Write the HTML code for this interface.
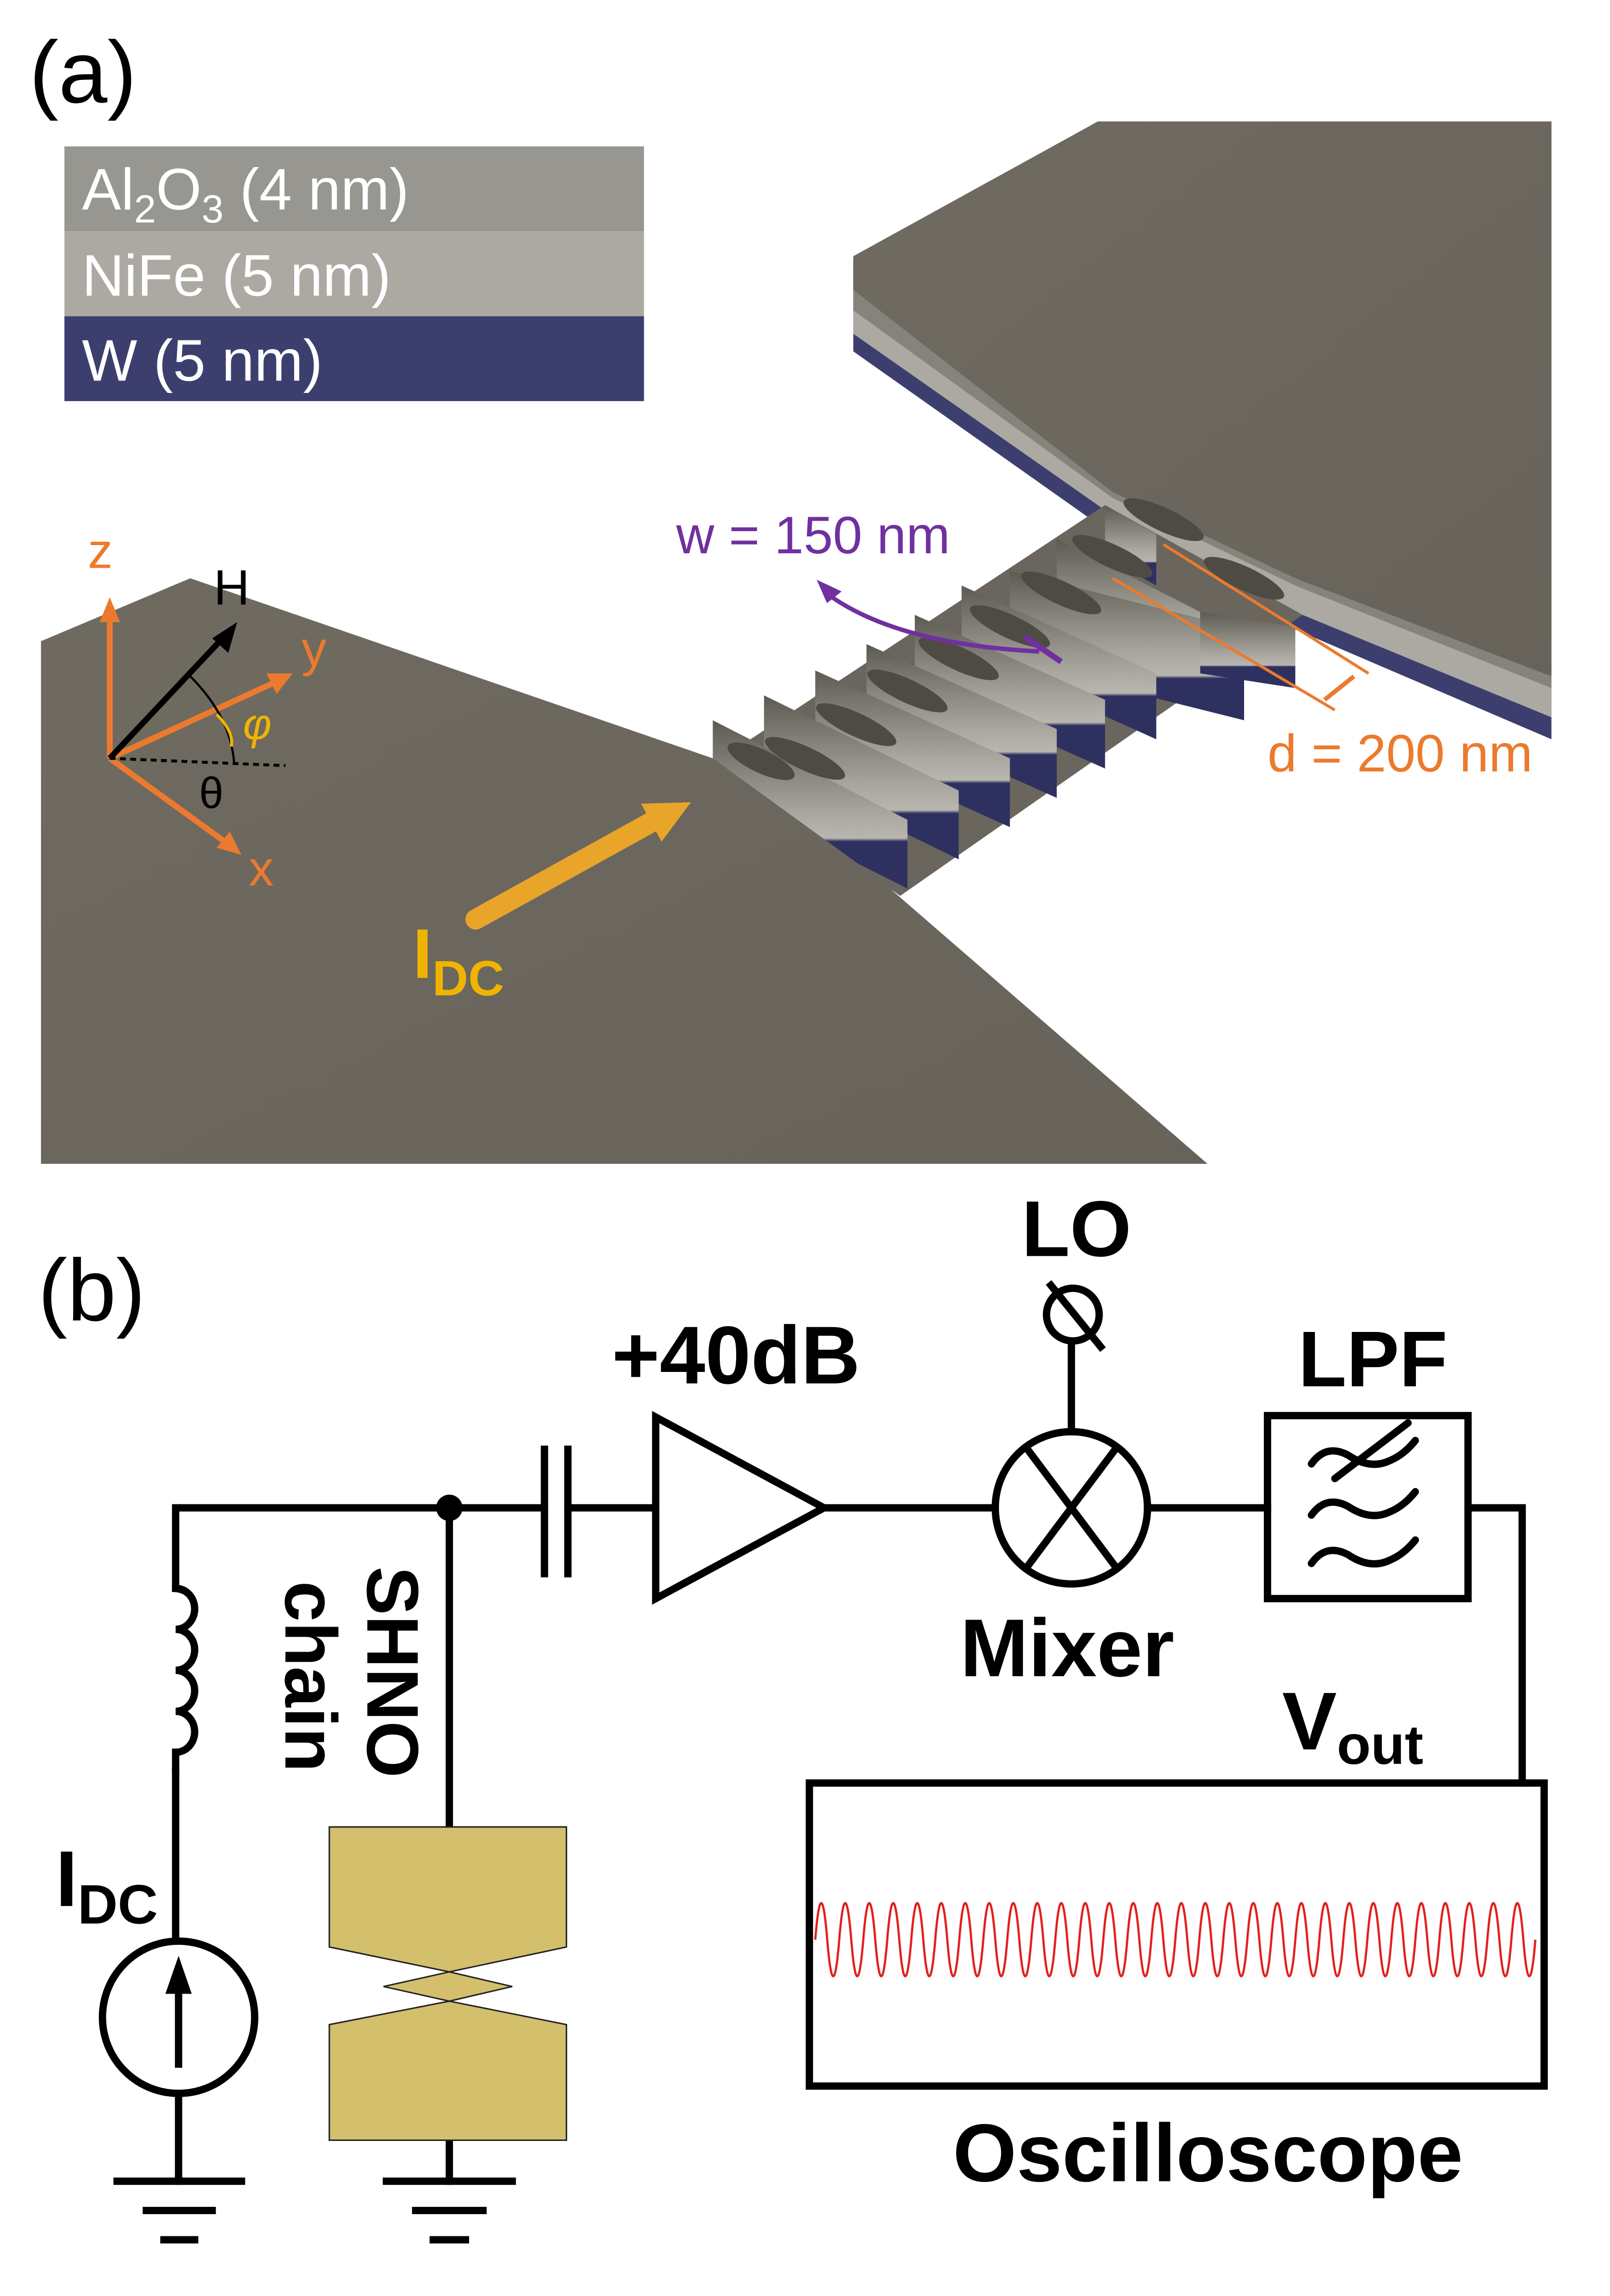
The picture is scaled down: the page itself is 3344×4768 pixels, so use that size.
<!DOCTYPE html>
<html><head><meta charset="utf-8"><style>
html,body{margin:0;padding:0;background:#fff;}
svg{display:block;}
text{font-family:"Liberation Sans",sans-serif;}
</style></head><body>
<svg width="3344" height="4768" viewBox="0 0 1100 1568.4" xmlns="http://www.w3.org/2000/svg">
<defs>
<linearGradient id="fin" x1="0" y1="0" x2="0" y2="1">
<stop offset="0" stop-color="#5d5a52"/><stop offset="0.55" stop-color="#a8a69e"/><stop offset="0.7" stop-color="#b8b6ae"/><stop offset="0.72" stop-color="#2e3160"/><stop offset="1" stop-color="#2e3160"/>
</linearGradient>
<linearGradient id="pad" x1="0" y1="0" x2="1" y2="1">
<stop offset="0" stop-color="#6f6b61"/><stop offset="1" stop-color="#67635a"/>
</linearGradient>
</defs>
<!-- (a) -->
<text x="20" y="70" font-size="60">(a)</text>
<rect x="44" y="100" width="396" height="58" fill="#979690"/>
<rect x="44" y="158" width="396" height="58" fill="#aba9a2"/>
<rect x="44" y="216" width="396" height="58" fill="#3c3f6e"/>
<text x="56" y="143" font-size="40" fill="#fff">Al<tspan font-size="27" dy="9">2</tspan><tspan dy="-9">O</tspan><tspan font-size="27" dy="9">3</tspan><tspan dy="-9"> (4 nm)</tspan></text>
<text x="56" y="202" font-size="40" fill="#fff">NiFe (5 nm)</text>
<text x="56" y="260" font-size="40" fill="#fff">W (5 nm)</text>

<!-- right pad -->
<polygon points="583,178 750,83 1060,83 1060,505 885,430 760,365 583,240" fill="#3c3f6e"/>
<polygon points="583,178 750,83 1060,83 1060,490 885,418 760,352 583,228" fill="#aba9a2"/>
<polygon points="583,178 750,83 1060,83 1060,470 885,400 760,340 583,212" fill="#85837b"/>
<polygon points="583,175 750,83 1060,83 1060,462 885,395 760,336 583,198" fill="url(#pad)"/>

<!-- chain base -->
<polygon points="487,522 755,345 890,420 615,612" fill="#6a665d"/>
<g>
<polygon points="755,345 790,365 790,400 755,380" fill="url(#fin)"/>
<polygon points="722,368 820,418 820,470 722,420" fill="url(#fin)"/>
<polygon points="690,390 850,430 850,492 690,452" fill="url(#fin)"/>
<polygon points="657,400 790,460 790,505 657,445" fill="url(#fin)"/>
<polygon points="625,420 755,478 755,525 625,467" fill="url(#fin)"/>
<polygon points="592,440 722,498 722,545 592,487" fill="url(#fin)"/>
<polygon points="557,458 690,518 690,565 557,505" fill="url(#fin)"/>
<polygon points="522,475 655,540 655,587 522,522" fill="url(#fin)"/>
<polygon points="487,492 620,560 620,607 487,540" fill="url(#fin)"/>
<polygon points="820,418 885,428 885,470 820,460" fill="url(#fin)"/>
</g>
<g fill="#4e4b44">
<ellipse cx="795" cy="355" rx="30" ry="8" transform="rotate(25 795 355)"/>
<ellipse cx="760" cy="380" rx="30" ry="8" transform="rotate(25 760 380)"/>
<ellipse cx="725" cy="405" rx="30" ry="8" transform="rotate(25 725 405)"/>
<ellipse cx="690" cy="428" rx="30" ry="8" transform="rotate(25 690 428)"/>
<ellipse cx="655" cy="450" rx="30" ry="8" transform="rotate(25 655 450)"/>
<ellipse cx="620" cy="472" rx="30" ry="8" transform="rotate(25 620 472)"/>
<ellipse cx="585" cy="495" rx="30" ry="8" transform="rotate(25 585 495)"/>
<ellipse cx="550" cy="518" rx="30" ry="8" transform="rotate(25 550 518)"/>
<ellipse cx="520" cy="520" rx="25" ry="8" transform="rotate(25 520 520)"/>
<ellipse cx="850" cy="395" rx="30" ry="8" transform="rotate(25 850 395)"/>
</g>
<polygon points="28,438 130,395 487,518 600,600 825,795 28,795" fill="url(#pad)"/>

<!-- axes -->
<g stroke="#ec7a2e" stroke-width="4" fill="#ec7a2e">
<line x1="75" y1="518" x2="75" y2="420"/><polygon points="75,408 68,425 82,425" stroke="none"/>
<line x1="75" y1="518" x2="188" y2="466"/><polygon points="200,460 182,460 189,474" stroke="none"/>
<line x1="75" y1="518" x2="155" y2="576"/><polygon points="165,584 148,579 157,568" stroke="none"/>
</g>
<line x1="75" y1="518" x2="195" y2="523" stroke="#000" stroke-width="2" stroke-dasharray="4,3"/>
<line x1="75" y1="518" x2="153" y2="435" stroke="#000" stroke-width="4"/>
<polygon points="162,425 145,436 156,446" fill="#000"/>
<path d="M130,462 Q158,490 160,522" stroke="#000" stroke-width="1.5" fill="none"/>
<path d="M148,488 Q160,500 158,510" stroke="#f0b400" stroke-width="2" fill="none"/>
<text x="60" y="388" font-size="34" fill="#ec7a2e">z</text>
<text x="206" y="455" font-size="34" fill="#ec7a2e">y</text>
<text x="170" y="605" font-size="34" fill="#ec7a2e">x</text>
<text x="146" y="413" font-size="34" fill="#000">H</text>
<text x="166" y="505" font-size="30" fill="#f0b400" font-style="italic" font-family="Liberation Serif,serif">φ</text>
<text x="136" y="552" font-size="30" fill="#000" font-family="Liberation Serif,serif">θ</text>

<line x1="325" y1="628" x2="448" y2="560" stroke="#e8a52a" stroke-width="14" stroke-linecap="round"/>
<polygon points="472,548 438,549 452,575" fill="#e8a52a"/>
<text x="282" y="668" font-size="48" fill="#f0b400" font-weight="bold">I<tspan font-size="34" dy="12">DC</tspan></text>

<text x="462" y="378" font-size="36" fill="#7030a0">w = 150 nm</text>
<path d="M563,404 Q610,440 710,445" stroke="#7030a0" stroke-width="3" fill="none"/>
<polygon points="558,396 575,404 565,412" fill="#7030a0"/>
<line x1="700" y1="435" x2="725" y2="452" stroke="#7030a0" stroke-width="4"/>
<line x1="760" y1="395" x2="912" y2="485" stroke="#ec7a2e" stroke-width="2"/>
<line x1="795" y1="372" x2="935" y2="460" stroke="#ec7a2e" stroke-width="2"/>
<line x1="905" y1="478" x2="925" y2="462" stroke="#ec7a2e" stroke-width="3"/>
<text x="866" y="527" font-size="36" fill="#ec7a2e">d = 200 nm</text>

<!-- (b) -->
<text x="26" y="902" font-size="60">(b)</text>
<g stroke="#000" stroke-width="5" fill="none" stroke-linecap="square">
<polyline points="120,1085 120,1030 372,1030"/>
<line x1="307" y1="1030" x2="307" y2="1248"/>
<line x1="372" y1="990" x2="372" y2="1075"/>
<line x1="388" y1="990" x2="388" y2="1075"/>
<line x1="388" y1="1030" x2="448" y2="1030"/>
<polygon points="448,968 448,1092 563,1030"/>
<line x1="563" y1="1030" x2="680" y2="1030"/>
<ellipse cx="732" cy="1030" rx="52" ry="52"/>
<line x1="702" y1="990" x2="762" y2="1070"/>
<line x1="762" y1="990" x2="702" y2="1070"/>
<line x1="732" y1="918" x2="732" y2="978"/>
<circle cx="733" cy="898" r="18"/>
<line x1="718" y1="878" x2="752" y2="920"/>
<line x1="784" y1="1030" x2="866" y2="1030"/>
<rect x="866" y="967" width="137" height="125"/>
<polyline points="1003,1030 1040,1030 1040,1218"/>
<rect x="553" y="1218" width="502" height="207"/>
<path d="M120,1085 a13,14 0 0 1 0,28 a13,14 0 0 1 0,28 a13,14 0 0 1 0,28 a13,14 0 0 1 0,28 l0,12"/>
<line x1="120" y1="1210" x2="120" y2="1326"/>
<ellipse cx="122" cy="1378" rx="52" ry="52"/>
<line x1="122" y1="1410" x2="122" y2="1350"/>
<line x1="122" y1="1430" x2="122" y2="1490"/>
<line x1="80" y1="1490" x2="165" y2="1490"/>
<line x1="100" y1="1510" x2="145" y2="1510"/>
<line x1="112" y1="1530" x2="133" y2="1530"/>
<line x1="307" y1="1462" x2="307" y2="1490"/>
<line x1="264" y1="1490" x2="350" y2="1490"/>
<line x1="284" y1="1510" x2="330" y2="1510"/>
<line x1="296" y1="1530" x2="318" y2="1530"/>
</g>
<polygon points="122,1336 113,1362 131,1362" fill="#000"/>
<path d="M896,1000 q10,-14 25,-6 q15,10 28,4 q10,-4 18,-14 M896,1035 q10,-14 25,-6 q15,10 28,4 q10,-4 18,-14 M896,1068 q10,-14 25,-6 q15,10 28,4 q10,-4 18,-14 M912,1010 L962,972" stroke="#000" stroke-width="5" fill="none" stroke-linecap="round"/>
<circle cx="307" cy="1030" r="9" fill="#000"/>
<polygon points="225,1248 387,1248 387,1330 307,1347 350,1357 307,1367 387,1383 387,1462 225,1462 225,1383 307,1367 262,1357 307,1347 225,1330" fill="#d4bf6c" stroke="#222" stroke-width="1"/>
<path fill="none" stroke="#e02020" stroke-width="1.5" d="M557,1325 q4.1,-50 8.2,0 t8.2,0 t8.2,0 t8.2,0 t8.2,0 t8.2,0 t8.2,0 t8.2,0 t8.2,0 t8.2,0 t8.2,0 t8.2,0 t8.2,0 t8.2,0 t8.2,0 t8.2,0 t8.2,0 t8.2,0 t8.2,0 t8.2,0 t8.2,0 t8.2,0 t8.2,0 t8.2,0 t8.2,0 t8.2,0 t8.2,0 t8.2,0 t8.2,0 t8.2,0 t8.2,0 t8.2,0 t8.2,0 t8.2,0 t8.2,0 t8.2,0 t8.2,0 t8.2,0 t8.2,0 t8.2,0 t8.2,0 t8.2,0 t8.2,0 t8.2,0 t8.2,0 t8.2,0 t8.2,0 t8.2,0 t8.2,0 t8.2,0 t8.2,0 t8.2,0 t8.2,0 t8.2,0 t8.2,0 t8.2,0 t8.2,0 t8.2,0 t8.2,0 t8.2,0"/>
<g font-weight="bold" font-size="56" fill="#000">
<text x="698" y="858" font-size="54">LO</text>
<text x="418" y="945">+40dB</text>
<text x="887" y="947" font-size="54">LPF</text>
<text x="656" y="1145">Mixer</text>
<text x="876" y="1195">V<tspan font-size="38" dy="10">out</tspan></text>
<text x="651" y="1490">Oscilloscope</text>
<text x="38" y="1302" font-size="54">I<tspan font-size="38" dy="12">DC</tspan></text>
<text transform="translate(251,1070) rotate(90)" font-size="50">SHNO</text>
<text transform="translate(195,1080) rotate(90)" font-size="50">chain</text>
</g>
</svg>
</body></html>
